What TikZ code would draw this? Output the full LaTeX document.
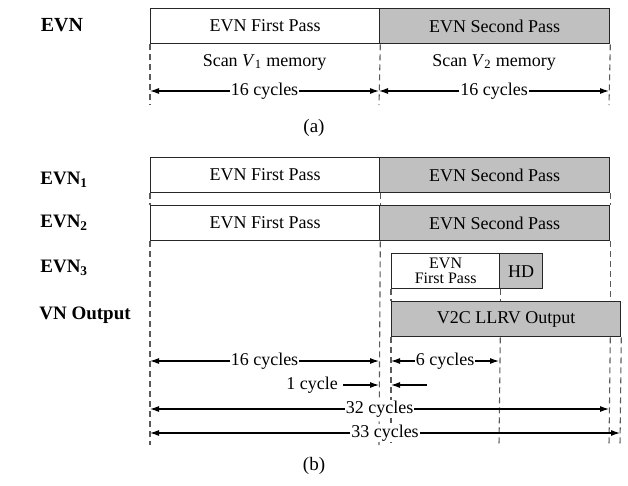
\documentclass[tikz,border=0pt]{standalone}
\usepackage{fontspec}
\setmainfont{Liberation Serif}
\usetikzlibrary{arrows.meta}
\definecolor{passgray}{RGB}{192,192,192}
\definecolor{guide}{RGB}{90,90,90}
\tikzset{
  txt/.style={font=\fontsize{18}{19}\selectfont, inner sep=0pt},
  rowlabel/.style={font=\fontsize{19}{21}\selectfont\bfseries, inner sep=0pt},
  passbox/.style={draw=black!85, line width=1.3pt, anchor=north west, inner sep=0pt,
    font=\fontsize{18}{19}\selectfont, align=center},
  whitebox/.style={passbox, fill=white},
  graybox/.style={passbox, fill=passgray},
  guideline/.style={draw=guide, line width=1.1pt, dash pattern=on 6pt off 4pt},
  span/.style={line width=1.1pt, {Latex[length=9pt,width=6pt]}-{Latex[length=9pt,width=6pt]}},
  oneway/.style={line width=1.1pt, -{Latex[length=9pt,width=6pt]}},
  spanlabel/.style={txt, fill=white, inner xsep=1pt, inner ysep=1pt}
}
\begin{document}
\begin{tikzpicture}[x=1pt,y=-1pt]
\useasboundingbox (0,0) rectangle (628,485);

% ---------------- (a) ----------------
\node[rowlabel, font=\fontsize{20}{22}\selectfont\bfseries] (la) at (62,25) {EVN};
\node[whitebox, minimum width=229pt, minimum height=35pt] (a1) at (150,8) {EVN First Pass};
\node[graybox, minimum width=230pt, minimum height=35pt] (a2) at (379,8) {EVN Second Pass};

\coordinate (ad1) at (150,105);
\coordinate (ad2) at (379,105);
\coordinate (ad3) at (609,105);
\draw[guideline] (a1.south west) -- (ad1);
\draw[guideline] (a1.south east) -- (ad2);
\draw[guideline] (a2.south east) -- (ad3);

\node[txt] (s1) at (264.5,62) {Scan \textit{V}\textsubscript{1} memory};
\node[txt] (s2) at (494,62) {Scan \textit{V}\textsubscript{2} memory};

\coordinate (aL) at (150,91);
\coordinate (aM) at (379,91);
\coordinate (aR) at (609,91);
\draw[span] (aL) -- node[spanlabel] {16 cycles} (aM);
\draw[span] (aM) -- node[spanlabel] {16 cycles} (aR);

\node[txt, font=\fontsize{19}{20}\selectfont] (capa) at (314,128) {(a)};

% ---------------- (b) ----------------
\node[rowlabel] (l1) at (64,180) {EVN\textsubscript{1}};
\node[rowlabel] (l2) at (64,223) {EVN\textsubscript{2}};
\node[rowlabel] (l3) at (64,268) {EVN\textsubscript{3}};
\node[rowlabel] (l4) at (85,315) {VN Output};

\node[whitebox, minimum width=229pt, minimum height=35pt] (b11) at (150,157) {EVN First Pass};
\node[graybox, minimum width=230pt, minimum height=35pt] (b12) at (379,157) {EVN Second Pass};
\node[whitebox, minimum width=229pt, minimum height=35pt] (b21) at (150,205) {EVN First Pass};
\node[graybox, minimum width=230pt, minimum height=35pt] (b22) at (379,205) {EVN Second Pass};
\node[whitebox, minimum width=108pt, minimum height=35pt,
      font=\fontsize{16}{15}\selectfont] (b31) at (391,253) {EVN\\First Pass};
\node[graybox, minimum width=43pt, minimum height=35pt] (b32) at (499,253) {HD};
\node[graybox, minimum width=229pt, minimum height=35pt] (b4) at (391,301) {V2C LLRV Output};

% short guides between the first two rows
\draw[guideline] (b11.south west) -- (b21.north west);
\draw[guideline] (b11.south east) -- (b21.north east);
\draw[guideline] (b12.south east) -- (b22.north east);

% long guides
\coordinate (g150) at (150,445);
\coordinate (g379) at (379,445);
\coordinate (g391) at (391,445);
\coordinate (g499) at (499,445);
\coordinate (g609) at (609,445);
\coordinate (g620) at (620,445);
\draw[guideline] (b21.south west) -- (g150);
\draw[guideline] (b21.south east) -- (g379);
\draw[guideline] (b22.south east) -- (b22.south east |- b4.north);
\draw[guideline] (b4.south west) -- (g391);
\draw[guideline] (b31.south west) -- (b4.north west);
\draw[guideline] (b31.south east) -- (b31.south east |- b4.north);
\draw[guideline] (b31.south east |- b4.south) -- (g499);
\draw[guideline] (b22.south east |- b4.south) -- (g609);
\draw[guideline] (b4.south east) -- (g620);

% spans
\coordinate (p16L) at (150,361);
\coordinate (p16R) at (379,361);
\coordinate (p6L) at (391,361);
\coordinate (p6R) at (499,361);
\coordinate (p1a) at (343,385);
\coordinate (p1b) at (379,385);
\coordinate (p1c) at (427,385);
\coordinate (p1d) at (391,385);
\coordinate (p32L) at (150,409);
\coordinate (p32R) at (609,409);
\coordinate (p33L) at (150,433);
\coordinate (p33R) at (620,433);

\draw[span] (p16L) -- node[spanlabel] {16 cycles} (p16R);
\draw[span] (p6L) -- node[spanlabel] {6 cycles} (p6R);
\node[txt, anchor=east] (one) at (338,385) {1 cycle};
\draw[oneway] (p1a) -- (p1b);
\draw[oneway] (p1c) -- (p1d);
\draw[span] (p32L) -- node[spanlabel] {32 cycles} (p32R);
\draw[span] (p33L) -- node[spanlabel] {33 cycles} (p33R);

\node[txt, font=\fontsize{19}{20}\selectfont] (capb) at (314,466) {(b)};
\end{tikzpicture}
\end{document}
